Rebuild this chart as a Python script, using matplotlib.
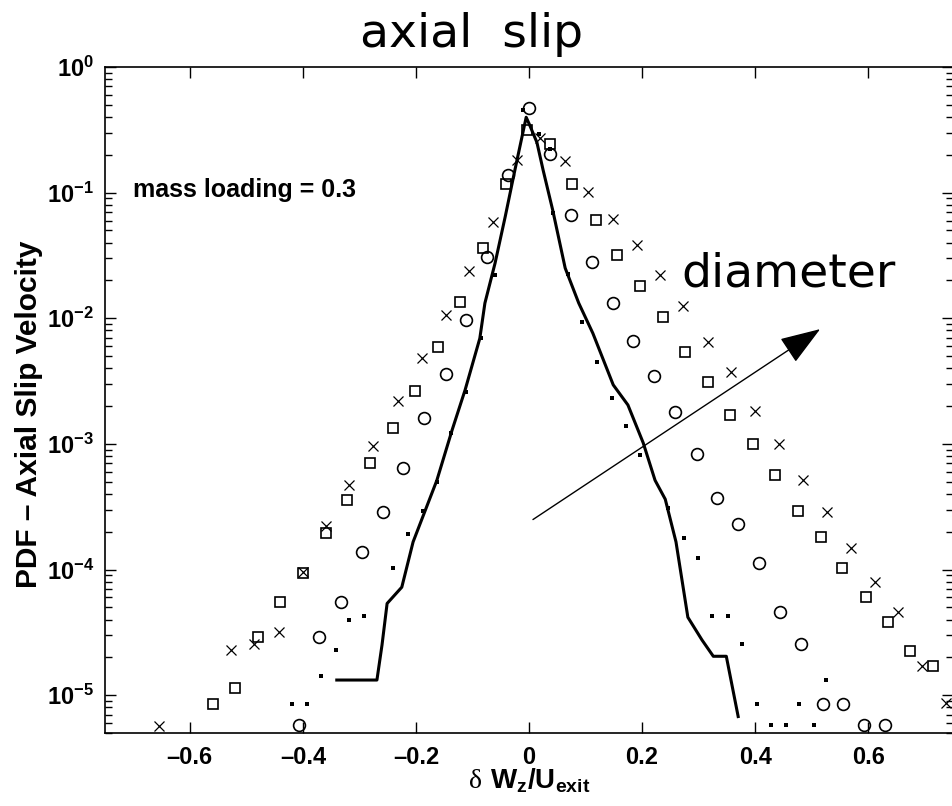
import numpy as np
import matplotlib
matplotlib.use('Agg')
import matplotlib.pyplot as plt

plt.rcParams['font.family'] = ['Liberation Sans', 'DejaVu Sans']
plt.rcParams['mathtext.fontset'] = 'custom'
plt.rcParams['mathtext.rm'] = 'Liberation Sans:bold'
plt.rcParams['mathtext.bf'] = 'Liberation Sans:bold'
plt.rcParams['mathtext.sf'] = 'Liberation Serif'
plt.rcParams['mathtext.default'] = 'rm'

# largest diameter (crosses)
x_cross = [-0.655, -0.527, -0.487, -0.442, -0.400, -0.359, -0.319, -0.276, -0.232, -0.189,
           -0.147, -0.106, -0.064, -0.021, 0.019, 0.064, 0.104, 0.149, 0.191, 0.232,
           0.273, 0.317, 0.358, 0.400, 0.442, 0.485, 0.527, 0.570, 0.612, 0.653, 0.696, 0.738]
y_cross = [5.71e-6, 2.30e-5, 2.57e-5, 3.16e-5, 9.55e-5, 2.24e-4, 4.68e-4, 9.55e-4, 2.19e-3, 4.79e-3,
           1.07e-2, 2.40e-2, 5.89e-2, 0.182, 0.272, 0.178, 0.102, 6.17e-2, 3.80e-2, 2.19e-2,
           1.26e-2, 6.46e-3, 3.72e-3, 1.82e-3, 1.00e-3, 5.13e-4, 2.88e-4, 1.48e-4, 7.94e-5, 4.57e-5, 1.70e-5, 8.71e-6]

x_square = [-0.559, -0.520, -0.480, -0.440, -0.400, -0.359, -0.322, -0.281, -0.240, -0.201,
            -0.161, -0.122, -0.081, -0.041, -0.004, 0.037, 0.076, 0.119, 0.156, 0.196,
            0.237, 0.276, 0.317, 0.356, 0.396, 0.435, 0.476, 0.517, 0.554, 0.596, 0.635, 0.674, 0.715]
y_square = [8.51e-6, 1.15e-5, 2.88e-5, 5.50e-5, 9.33e-5, 1.95e-4, 3.55e-4, 7.08e-4, 1.35e-3, 2.63e-3,
            5.89e-3, 1.35e-2, 3.63e-2, 0.117, 0.316, 0.245, 0.117, 6.03e-2, 3.16e-2, 1.82e-2,
            1.02e-2, 5.37e-3, 3.09e-3, 1.70e-3, 1.00e-3, 5.62e-4, 2.95e-4, 1.82e-4, 1.02e-4, 6.03e-5, 3.80e-5, 2.24e-5, 1.70e-5]

x_circle = [-0.407, -0.372, -0.333, -0.296, -0.258, -0.223, -0.186, -0.147, -0.112, -0.074,
            -0.037, 0.000, 0.037, 0.074, 0.112, 0.149, 0.184, 0.221, 0.258, 0.297,
            0.333, 0.370, 0.407, 0.444, 0.481, 0.520, 0.556, 0.593, 0.630]
y_circle = [5.75e-6, 2.88e-5, 5.50e-5, 1.38e-4, 2.88e-4, 6.46e-4, 1.62e-3, 3.63e-3, 9.77e-3, 3.09e-2,
            0.138, 0.468, 0.204, 6.61e-2, 2.82e-2, 1.32e-2, 6.61e-3, 3.47e-3, 1.78e-3, 8.32e-4,
            3.72e-4, 2.29e-4, 1.12e-4, 4.57e-5, 2.57e-5, 8.51e-6, 8.51e-6, 5.75e-6, 5.75e-6]

# smallest diameter (dots)
x_dot = [-0.420, -0.393, -0.368, -0.342, -0.319, -0.292, -0.240, -0.214, -0.187, -0.163,
         -0.138, -0.112, -0.085, -0.060, -0.011, 0.018, 0.037, 0.042, 0.069, 0.094,
         0.120, 0.147, 0.172, 0.196, 0.246, 0.274, 0.299, 0.324, 0.352, 0.377,
         0.404, 0.428, 0.455, 0.478, 0.504, 0.526]
y_dot = [8.51e-6, 8.51e-6, 1.41e-5, 2.29e-5, 3.98e-5, 4.27e-5, 1.02e-4, 1.91e-4, 2.95e-4, 5.01e-4,
         1.23e-3, 2.57e-3, 6.92e-3, 2.19e-2, 0.457, 0.295, 0.224, 6.92e-2, 2.24e-2, 9.33e-3,
         4.47e-3, 2.34e-3, 1.38e-3, 8.13e-4, 3.09e-4, 1.78e-4, 1.23e-4, 4.27e-5, 4.27e-5, 2.57e-5,
         8.51e-6, 5.75e-6, 5.75e-6, 8.51e-6, 5.75e-6, 1.32e-5]

# fluid (solid line)
x_line = [-0.340, -0.269, -0.260, -0.251, -0.225, -0.205, -0.163, -0.136, -0.113, -0.087,
          -0.078, -0.060, -0.042, -0.025, -0.005, 0.000, 0.014, 0.025, 0.042, 0.064,
          0.088, 0.113, 0.149, 0.175, 0.202, 0.223, 0.241, 0.260, 0.281, 0.306,
          0.326, 0.349, 0.370]
y_line = [1.32e-5, 1.32e-5, 2.51e-5, 5.37e-5, 7.24e-5, 1.66e-4, 5.13e-4, 1.29e-3, 2.69e-3, 6.92e-3,
          1.32e-2, 2.75e-2, 6.46e-2, 0.151, 0.398, 0.355, 0.251, 0.151, 7.24e-2, 2.51e-2,
          1.32e-2, 7.59e-3, 2.95e-3, 2.04e-3, 1.02e-3, 5.13e-4, 3.63e-4, 1.66e-4, 4.17e-5, 2.75e-5,
          2.04e-5, 2.04e-5, 6.76e-6]

xticks = [-0.6, -0.4, -0.2, 0, 0.2, 0.4, 0.6]
xtick_labels = ['\u20130.6', '\u20130.4', '\u20130.2', '0', '0.2', '0.4', '0.6']
yticks = [1e-5, 1e-4, 1e-3, 1e-2, 1e-1, 1e0]
ytick_labels = [r'$10^{-5}$', r'$10^{-4}$', r'$10^{-3}$', r'$10^{-2}$', r'$10^{-1}$', r'$10^{0}$']

fig = plt.figure(figsize=(9.53, 8.06), dpi=100)
ax = fig.add_axes([105 / 953, 73 / 806, 848 / 953, 666 / 806])

ax.plot(x_line, y_line, 'k-', lw=2.2, zorder=3)
ax.plot(x_cross, y_cross, 'kx', ms=6.5, mew=0.9, zorder=2)
ax.plot(x_square, y_square, 's', ms=7.5, mfc='none', mec='k', mew=1.2, zorder=2)
ax.plot(x_circle, y_circle, 'o', ms=8.5, mfc='none', mec='k', mew=1.2, zorder=2)
ax.plot(x_dot, y_dot, 'ks', ms=2.6, mew=0, zorder=4)

ax.set_yscale('log')
ax.set_xlim(-0.75, 0.75)
ax.set_ylim(5e-6, 1)
ax.set_xticks(xticks)
ax.set_xticklabels(xtick_labels, fontsize=17, fontweight='bold')
ax.set_yticks(yticks)
ax.set_yticklabels(ytick_labels, fontsize=17)
ax.tick_params(which='both', direction='in', top=True, right=True, width=1)
ax.tick_params(which='major', length=8)
ax.tick_params(which='minor', length=5)
ax.tick_params(axis='x', which='minor', bottom=False, top=False)
ax.tick_params(axis='x', pad=9)
ax.tick_params(axis='y', pad=8)
for s in ax.spines.values():
    s.set_linewidth(1.2)

ax.set_xlabel(r'$\mathsf{\delta}\ W_z/U_{exit}$', fontsize=20)
ax.xaxis.set_label_coords(0.5, -0.051)
ax.set_ylabel('PDF \u2013 Axial Slip Velocity', fontsize=21.5, fontweight='bold')
ax.yaxis.set_label_coords(-0.073, 0.478)

ax.text(0.033, 0.805, 'mass loading = 0.3', transform=ax.transAxes,
        fontsize=18, fontweight='bold')
ax.text(0.68, 0.67, 'diameter', transform=ax.transAxes,
        fontsize=34, family='DejaVu Sans')
ax.annotate('', xy=(0.515, 8.2e-3), xytext=(0.007, 2.5e-4),
            arrowprops=dict(arrowstyle='-|>,head_length=1.7,head_width=0.6',
                            mutation_scale=15, lw=1, color='k',
                            shrinkA=0, shrinkB=0))

fig.text(472 / 953, (806 - 47) / 806, 'axial  slip', ha='center', va='baseline',
         fontsize=34, family='DejaVu Sans')

fig.savefig('out.png', dpi=100)
